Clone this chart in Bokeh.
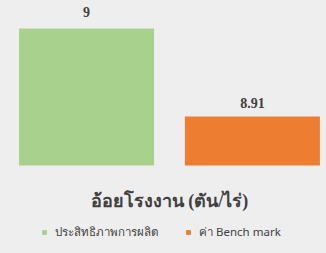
from bokeh.plotting import figure
from bokeh.models import FactorRange, Range1d, ColumnDataSource, LabelSet, Legend, LegendItem
from bokeh.transform import dodge
from bokeh.embed import file_html
from bokeh.resources import INLINE

category = ["อ้อยโรงงาน (ตัน/ไร่)"]
series = ["ประสิทธิภาพการผลิต", "ค่า Bench mark"]
efficiency = [9]
benchmark = [8.91]
label_eff = ["9"]
label_bm = ["8.91"]

BG = "#eeeeee"
BASE = 8.86
src = ColumnDataSource(dict(cat=category, eff=efficiency, bm=benchmark,
                            leff=label_eff, lbm=label_bm))

p = figure(x_range=FactorRange(factors=category, range_padding=0),
           y_range=Range1d(8.7699, 9.0286),
           width=326, height=253,
           x_axis_location=None, y_axis_location=None,
           output_backend="svg", toolbar_location=None,
           background_fill_color=BG, border_fill_color=BG,
           outline_line_color=None, min_border=0, min_border_left=12)
p.xgrid.visible = False
p.ygrid.visible = False

r1 = p.vbar(x=dodge("cat", -0.264, range=p.x_range), top="eff", bottom=BASE, width=0.43,
            source=src, fill_color="#a9d18e", line_color=None)
r2 = p.vbar(x=dodge("cat", 0.264, range=p.x_range), top="bm", bottom=BASE, width=0.43,
            source=src, fill_color="#ed7d31", line_color=None)

for col, val, dx, off in (("leff", "eff", -0.264, 11), ("lbm", "bm", 0.264, 8)):
    p.add_layout(LabelSet(x=dodge("cat", dx, range=p.x_range), y=val, text=col, source=src,
                          text_align="center", text_baseline="bottom", y_offset=off,
                          text_font="DejaVu Sans", text_font_style="bold",
                          text_font_size="14px", text_color="#404040"))

# category label under the bars
p.add_layout(LabelSet(x="cat", y=BASE, text="cat", source=src, y_offset=-36,
                      text_align="center", text_baseline="middle",
                      text_font="Noto Sans", text_font_style="bold",
                      text_font_size="18px", text_color="#404040"))

legend = Legend(items=[LegendItem(label=series[0], renderers=[r1]),
                       LegendItem(label=series[1], renderers=[r2])],
                orientation="horizontal", location=(29, 12),
                background_fill_alpha=0, border_line_color=None,
                label_text_font="Noto Sans", label_text_font_size="11.5px",
                label_text_color="#404040", glyph_width=6, glyph_height=6,
                label_height=16, spacing=27, padding=0, margin=0, label_standoff=8)
p.add_layout(legend)

html = file_html(p, INLINE)
html = html.replace("<head>", "<head><style>body{background:#eeeeee;}</style>", 1)
open("out.html", "w").write(html)
